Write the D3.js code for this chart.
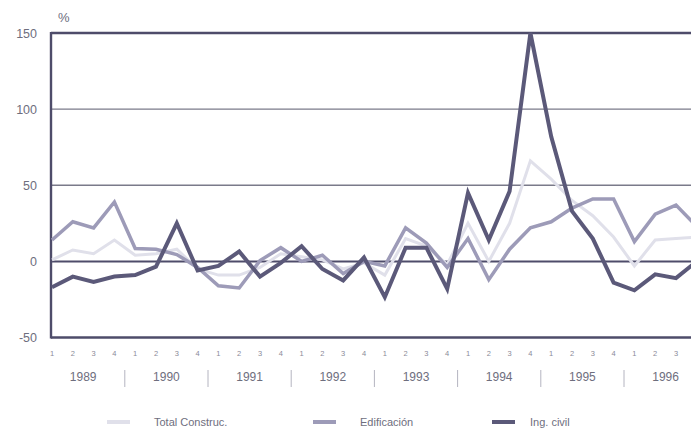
<!DOCTYPE html>
<html>
<head>
<meta charset="utf-8">
<script src="https://cdn.jsdelivr.net/npm/d3@7"></script>
<style>
  body { margin: 0; background: #fff; }
  svg { display: block; font-family: "Liberation Sans", Arial, sans-serif; }
</style>
</head>
<body>
<svg id="chart" width="691" height="431"></svg>
<script>
// quarters 1989Q1 .. 1996Q4 (last one falls off the right edge)
const years = ["1989", "1990", "1991", "1992", "1993", "1994", "1995", "1996"];
const quarterLabels = ["1", "2", "3", "4"];

// year-on-year change, %
const totalConstruc = [1, 7.5, 5, 14, 4, 5, 8, -5, -9, -9, -4, 5, 3, 1, -5, -1,
                       -9, 15, 10, -2, 25, 0, 25, 66, 54, 40, 30, 16, -3, 14, 15, 16];
const edificacion   = [14, 26, 22, 39, 8.5, 8, 4.5, -4, -16, -17.5, 0.5, 9, 0, 4, -8, 0,
                       -3, 22, 12, -4, 15, -12, 8, 22, 26, 35, 41, 41, 13, 31, 37, 23];
const ingCivil      = [-17, -10, -13.5, -10, -9, -3.5, 25, -6, -3, 6.5, -10, -1, 10, -5, -12.5, 2.5,
                       -23.5, 9, 9, -18, 45, 14, 46, 150, 82, 33, 15, -14, -19, -8.5, -11, 0];

const yTicks = [150, 100, 50, 0, -50];

const series = [
  { name: "Total Construc.", values: totalConstruc, color: "#e0e0ea", width: 3 },
  { name: "Edificación", values: edificacion, color: "#9d9bb8", width: 3.5 },
  { name: "Ing. civil", values: ingCivil, color: "#5b5979", width: 4 }
];

const svg = d3.select("#chart");
const textColor = "#6e6e7e";

let x = d3.scaleLinear().domain([0, 30]).range([52, 676]);
let y = d3.scaleLinear().domain([-50, 150]).range([337.5, 33]);

// horizontal rules
svg.append("g")
  .selectAll("line")
  .data(yTicks)
  .join("line")
  .attr("x1", 51)
  .attr("x2", 691)
  .attr("y1", d => y(d))
  .attr("y2", d => y(d))
  .attr("stroke", d => (d == 100 || d == 50) ? "#7a7a8a" : "#4e4c6a")
  .attr("stroke-width", d => (d == 100 || d == 50) ? 1.4 : (d == 0 ? 2 : 2.6));

// left axis
svg.append("line")
  .attr("x1", 51).attr("x2", 51)
  .attr("y1", y(150) - 1).attr("y2", y(-50) + 1)
  .attr("stroke", "#4e4c6a")
  .attr("stroke-width", 2.4);

svg.append("g")
  .selectAll("text")
  .data(yTicks)
  .join("text")
  .attr("x", 37)
  .attr("y", d => y(d) + 4.5)
  .attr("text-anchor", "end")
  .attr("font-size", 12.5)
  .attr("fill", textColor)
  .text(d => d);

svg.append("text")
  .attr("x", 58).attr("y", 22)
  .attr("font-size", 13)
  .attr("fill", textColor)
  .text("%");

// series lines
let line = d3.line()
  .x((d, i) => x(i))
  .y(d => y(d));

series.forEach(function (s) {
  svg.append("path")
    .datum(s.values)
    .attr("d", line)
    .attr("fill", "none")
    .attr("stroke", s.color)
    .attr("stroke-width", s.width)
    .attr("stroke-linejoin", "miter")
    .attr("stroke-miterlimit", 6);
});

// quarter labels (the 1996 Q4 label lies outside the picture)
let quarters = [];
years.forEach(function (yr, yi) {
  quarterLabels.forEach(function (q, qi) {
    quarters.push({ label: q, i: yi * 4 + qi });
  });
});
quarters = quarters.filter(q => x(q.i) < 686);

svg.append("g")
  .selectAll("text")
  .data(quarters)
  .join("text")
  .attr("x", d => x(d.i))
  .attr("y", 356)
  .attr("text-anchor", "middle")
  .attr("font-size", 7.5)
  .attr("fill", "#8a8a98")
  .text(d => d.label);

// year labels and separators
svg.append("g")
  .selectAll("text")
  .data(years)
  .join("text")
  .attr("x", (d, i) => x(i * 4 + 1.5))
  .attr("y", 381)
  .attr("text-anchor", "middle")
  .attr("font-size", 12)
  .attr("fill", textColor)
  .text(d => d);

svg.append("g")
  .selectAll("line")
  .data(years.slice(1))
  .join("line")
  .attr("x1", (d, i) => x((i + 1) * 4 - 0.5))
  .attr("x2", (d, i) => x((i + 1) * 4 - 0.5))
  .attr("y1", 370)
  .attr("y2", 387)
  .attr("stroke", "#b4b4c0")
  .attr("stroke-width", 1);

// legend
const legendX = [107, 313, 492];
const legend = svg.append("g")
  .selectAll("g")
  .data(series)
  .join("g")
  .attr("transform", (d, i) => "translate(" + legendX[i] + ",422)");

legend.append("line")
  .attr("x1", 0).attr("x2", 23)
  .attr("y1", 0).attr("y2", 0)
  .attr("stroke", d => d.color)
  .attr("stroke-width", 4);

legend.append("text")
  .attr("x", (d, i) => i == 2 ? 38 : 47)
  .attr("y", 3.5)
  .attr("font-size", 11)
  .attr("fill", textColor)
  .text(d => d.name);
</script>
</body>
</html>
